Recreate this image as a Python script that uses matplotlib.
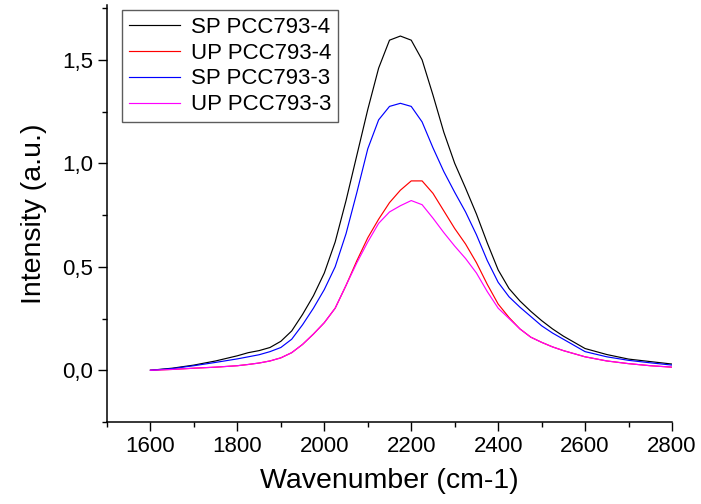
import numpy as np
import matplotlib
matplotlib.use("Agg")
import matplotlib.pyplot as plt
from matplotlib.ticker import MultipleLocator, FuncFormatter

plt.rcParams['font.family'] = ['Liberation Sans', 'DejaVu Sans']

wavenumber = [1600, 1650, 1700, 1750, 1800, 1825, 1850, 1875, 1900, 1925,
              1950, 1975, 2000, 2025, 2050, 2075, 2100, 2125, 2150, 2175,
              2200, 2225, 2250, 2275, 2300, 2325, 2350, 2375, 2400, 2425,
              2450, 2475, 2500, 2525, 2550, 2600, 2650, 2700, 2750, 2800]

sp_pcc793_4 = [0.0, 0.01, 0.025, 0.045, 0.07, 0.085, 0.095, 0.11, 0.14, 0.19,
               0.27, 0.36, 0.47, 0.62, 0.82, 1.04, 1.26, 1.46, 1.595, 1.615,
               1.595, 1.50, 1.33, 1.15, 1.00, 0.88, 0.755, 0.615, 0.485, 0.395,
               0.335, 0.285, 0.24, 0.20, 0.165, 0.105, 0.076, 0.054, 0.042, 0.03]

up_pcc793_4 = [0.0, 0.004, 0.01, 0.015, 0.022, 0.028, 0.035, 0.045, 0.06, 0.085,
               0.125, 0.175, 0.23, 0.30, 0.41, 0.53, 0.64, 0.73, 0.81, 0.87,
               0.915, 0.915, 0.855, 0.77, 0.685, 0.61, 0.52, 0.415, 0.32, 0.255,
               0.20, 0.16, 0.135, 0.113, 0.095, 0.065, 0.045, 0.032, 0.022, 0.015]

sp_pcc793_3 = [0.0, 0.008, 0.022, 0.038, 0.055, 0.065, 0.075, 0.09, 0.11, 0.15,
               0.22, 0.30, 0.39, 0.50, 0.66, 0.86, 1.07, 1.21, 1.275, 1.29,
               1.275, 1.20, 1.075, 0.96, 0.86, 0.765, 0.655, 0.53, 0.425, 0.355,
               0.305, 0.26, 0.215, 0.18, 0.15, 0.09, 0.065, 0.048, 0.036, 0.025]

up_pcc793_3 = [0.0, 0.004, 0.01, 0.015, 0.022, 0.028, 0.035, 0.045, 0.06, 0.085,
               0.125, 0.175, 0.23, 0.30, 0.41, 0.52, 0.62, 0.71, 0.765, 0.795,
               0.82, 0.80, 0.735, 0.665, 0.60, 0.54, 0.47, 0.38, 0.30, 0.25,
               0.20, 0.16, 0.135, 0.113, 0.095, 0.065, 0.045, 0.032, 0.022, 0.015]

series = [
    ("SP PCC793-4", sp_pcc793_4, "#000000"),
    ("UP PCC793-4", up_pcc793_4, "#ff0000"),
    ("SP PCC793-3", sp_pcc793_3, "#0000ff"),
    ("UP PCC793-3", up_pcc793_3, "#ff00ff"),
]

fig = plt.figure(figsize=(7.01, 5.04), dpi=100)
ax = fig.add_axes([107 / 701, 1 - 422 / 504, (672 - 107) / 701, (422 - 5) / 504])

for label, values, color in series:
    ax.plot(wavenumber, values, color=color, lw=0.85, label=label)

ax.set_xlim(1500, 2800)
ax.set_ylim(-0.25, 1.765)

ax.xaxis.set_major_locator(MultipleLocator(200))
ax.xaxis.set_minor_locator(MultipleLocator(100))
ax.yaxis.set_major_locator(MultipleLocator(0.5))
ax.yaxis.set_minor_locator(MultipleLocator(0.25))
ax.yaxis.set_major_formatter(FuncFormatter(lambda v, p: f"{v:.1f}".replace(".", ",")))

ax.tick_params(which="major", direction="out", length=6.3, width=1, labelsize=16)
ax.tick_params(which="minor", direction="out", length=3.5, width=1)
for side in ("top", "right"):
    ax.spines[side].set_visible(False)
for side in ("left", "bottom"):
    ax.spines[side].set_linewidth(1.1)

ax.set_xlabel("Wavenumber (cm-1)", fontsize=20.5, labelpad=8)
ax.set_ylabel("Intensity (a.u.)", fontsize=20.5, labelpad=11)

leg = ax.legend(loc="upper left", bbox_to_anchor=(15 / 565, 0.988), fontsize=16,
                frameon=True, fancybox=False, edgecolor="#333333",
                handlelength=2.3, handletextpad=0.5, labelspacing=0.22,
                borderpad=0.3, borderaxespad=0)
leg.get_frame().set_linewidth(1.0)

fig.savefig("out.png", dpi=100)
